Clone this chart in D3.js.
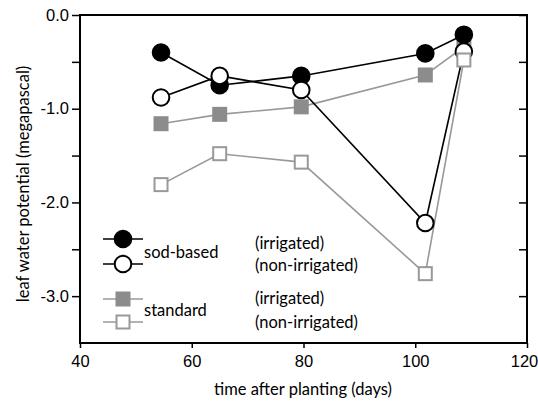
<!DOCTYPE html>
<html><head><meta charset="utf-8">
<script src="https://cdn.jsdelivr.net/npm/d3@7"></script>
<style>body{margin:0;background:#fff}svg{display:block;font-family:Lato,"Open Sans",sans-serif}</style>
</head><body>
<svg id="c" width="538" height="404"></svg>
<script>
const days = [54.5, 65.0, 79.6, 101.8, 108.7];
const sodIrrigated = [-0.40, -0.75, -0.65, -0.41, -0.21];
const sodNonIrrigated = [-0.88, -0.65, -0.80, -2.22, -0.39];
const stdIrrigated = [-1.16, -1.06, -0.98, -0.64, -0.34];
const stdNonIrrigated = [-1.81, -1.48, -1.57, -2.76, -0.48];
const xTicks = [40, 60, 80, 100, 120];
const yTicks = [0, -1, -2, -3];
const yMinor = [-0.5, -1.5, -2.5];

const svg = d3.select("#c");
const L = 80, R = 527, T = 15, B = 343;
const x = d3.scaleLinear().domain([40, 120]).range([L, R]);
const y = d3.scaleLinear().domain([0, -3.5]).range([T, B]);
const gray = "#999", grayFill = "#8c8c8c";

svg.append("rect").attr("x", L).attr("y", T).attr("width", R - L).attr("height", B - T)
  .attr("fill", "none").attr("stroke", "#000").attr("stroke-width", 2);

const ya = svg.append("g").attr("transform", `translate(${L},0)`)
  .call(d3.axisLeft(y).tickValues(yTicks.concat(yMinor)).tickSize(8).tickPadding(3)
    .tickFormat(d => yTicks.includes(d) ? (d === 0 ? "0.0" : d3.format(".1f")(d).replace("−", "-")) : ""));
ya.select(".domain").remove();
ya.selectAll("line").attr("stroke-width", 1.5);
ya.selectAll("text").attr("font-size", 16.5).attr("fill", "#000");

const yr = svg.append("g").attr("transform", `translate(${R},0)`)
  .call(d3.axisLeft(y).tickValues(yTicks.concat(yMinor)).tickSize(8).tickFormat(""));
yr.select(".domain").remove();
yr.selectAll("line").attr("stroke-width", 1.5);

const xa = svg.append("g").attr("transform", `translate(0,${B})`)
  .call(d3.axisBottom(x).tickValues(xTicks).tickSize(5).tickPadding(7));
xa.select(".domain").remove();
xa.selectAll("line").attr("stroke-width", 1.5);
xa.selectAll("text").attr("font-size", 16.5).attr("fill", "#000");
xa.selectAll("text").filter(d => d === 120).attr("dx", -3);

svg.append("text").attr("x", 303).attr("y", 395).attr("text-anchor", "middle")
  .attr("font-size", 16.5).text("time after planting (days)");
svg.append("text").attr("transform", `translate(29,${(T + B) / 2 + 5}) rotate(-90)`).attr("text-anchor", "middle")
  .attr("font-size", 16.5).text("leaf water potential (megapascal)");

const line = d3.line().x((d, i) => x(days[i])).y(d => y(d));

const series = [
  {v: stdIrrigated, color: gray, shape: "sq", fill: grayFill},
  {v: stdNonIrrigated, color: gray, shape: "sq", fill: "#fff"},
  {v: sodIrrigated, color: "#000", shape: "c", fill: "#000"},
  {v: sodNonIrrigated, color: "#000", shape: "c", fill: "#fff"}
];
series.forEach(s => {
  svg.append("path").datum(s.v).attr("d", line).attr("fill", "none")
    .attr("stroke", s.color).attr("stroke-width", 1.6);
});
function marker(g, s, cx, cy) {
  if (s.shape === "c") {
    g.append("circle").attr("cx", cx).attr("cy", cy).attr("r", 8.3)
      .attr("fill", s.fill).attr("stroke", s.color).attr("stroke-width", 2);
  } else {
    const h = 6.5;
    g.append("rect").attr("x", cx - h).attr("y", cy - h).attr("width", 2 * h).attr("height", 2 * h)
      .attr("fill", s.fill).attr("stroke", s.fill === "#fff" ? s.color : s.fill).attr("stroke-width", 2);
  }
}
[0, 2, 3, 1].forEach(k => {
  const s = series[k];
  s.v.forEach((d, i) => marker(svg, s, x(days[i]), y(d)));
});

const leg = [
  {s: series[2], y: 239}, {s: series[3], y: 264},
  {s: series[0], y: 299}, {s: series[1], y: 322}
];
leg.forEach(l => {
  svg.append("line").attr("x1", 103).attr("x2", 143).attr("y1", l.y).attr("y2", l.y)
    .attr("stroke", l.s.color).attr("stroke-width", 1.6);
  marker(svg, l.s, 123, l.y);
});
const lt = (t, xx, yy) => svg.append("text").attr("x", xx).attr("y", yy).attr("font-size", 16.5).text(t);
lt("sod-based", 144, 258);
lt("standard", 144, 316);
lt("(irrigated)", 255, 249);
lt("(non-irrigated)", 255, 271);
lt("(irrigated)", 255, 304);
lt("(non-irrigated)", 255, 328);
</script>
</body></html>
